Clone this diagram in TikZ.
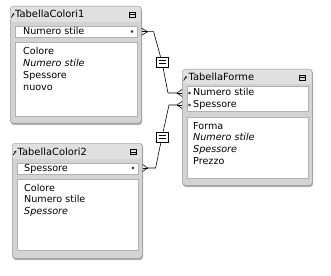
\documentclass[tikz,border=0pt]{standalone}
\usepackage{fontspec}
\setmainfont{DejaVu Sans}
\usetikzlibrary{arrows.meta}
\definecolor{framegray}{HTML}{D3D3D3}
\definecolor{titlegray}{HTML}{E0E0E0}
\definecolor{edgegray}{HTML}{999999}
\definecolor{shadowgray}{HTML}{AEAEAE}
\begin{document}
\begin{tikzpicture}[x=1pt,y=-1pt,
  frame/.style={draw=edgegray, fill=framegray, rounded corners=3pt, anchor=north west, inner sep=0pt, line width=0.6pt},
  shadow/.style={fill=shadowgray, rounded corners=3pt},
  field/.style={draw=black!30, fill=white, anchor=north west, inner sep=0pt, line width=0.5pt},
  txt/.style={anchor=west, inner sep=0pt, text height=7.5pt, text depth=1.5pt, font=\fontsize{9.6}{11}\selectfont},
  ttl/.style={anchor=west, inner sep=0pt, text height=7.5pt, text depth=1.5pt, font=\fontsize{9.9}{11}\selectfont},
  itx/.style={txt, font=\fontsize{9.6}{11}\selectfont\itshape},
  eqbox/.style={draw, fill=white, minimum width=12pt, minimum height=10pt, inner sep=0pt, line width=0.6pt},
  conn/.style={line width=0.6pt},
  keydot/.style={draw=black, fill=white, line width=0.5pt},
  linkarrow/.style={line width=0.7pt, -{Stealth[length=2pt,width=2.4pt]}}]
\useasboundingbox (0,0) rectangle (331,275);

% ---------- TabellaColori1 ----------
\fill[shadow] (11,8) rectangle (142,125);
\node[frame, minimum width=131pt, minimum height=117pt] (t1) at (10,6) {};
\fill[titlegray, rounded corners=2.5pt] (10.6,6.6) rectangle (140.4,22);
\node[field, minimum width=122pt, minimum height=11pt] (t1key) at (15,26) {};
\node[field, minimum width=122pt, minimum height=74pt] (t1body) at (15,42) {};
\draw[linkarrow] (11.3,17.5) -- (14.2,13.2);
\node[ttl] (t1title) at (15,15) {TabellaColori1};
\draw[line width=0.8pt] (129.5,12.5) rectangle (135,17.5);
\draw[line width=1pt] (129.5,15) -- (135,15);
\node[txt] (t1k1) at (23,31.7) {Numero stile};
\draw[keydot] (132,31.5) circle (1.1pt);
\node[txt] (t1b1) at (23,52) {Colore};
\node[itx] (t1b2) at (23,64) {Numero stile};
\node[txt] (t1b3) at (23,76) {Spessore};
\node[txt] (t1b4) at (23,88) {nuovo};

% ---------- TabellaColori2 ----------
\fill[shadow] (13,145) rectangle (143,260);
\node[frame, minimum width=130pt, minimum height=115pt] (t2) at (12,143) {};
\fill[titlegray, rounded corners=2.5pt] (12.6,143.6) rectangle (141.4,159);
\node[field, minimum width=121pt, minimum height=11pt] (t2key) at (17,162.5) {};
\node[field, minimum width=121pt, minimum height=71pt] (t2body) at (17,179) {};
\draw[linkarrow] (13.3,155) -- (16.2,150.7);
\node[ttl] (t2title) at (17.5,152.5) {TabellaColori2};
\draw[line width=0.8pt] (130.5,149.5) rectangle (136,154.5);
\draw[line width=1pt] (130.5,152) -- (136,152);
\node[txt] (t2k1) at (24,168) {Spessore};
\draw[keydot] (133,168) circle (1.1pt);
\node[txt] (t2b1) at (24,188) {Colore};
\node[txt] (t2b2) at (24,199.5) {Numero stile};
\node[itx] (t2b3) at (24,211) {Spessore};

% ---------- TabellaForme ----------
\fill[shadow] (183,71) rectangle (313,187);
\node[frame, minimum width=130pt, minimum height=116pt] (t3) at (182,69) {};
\fill[titlegray, rounded corners=2.5pt] (182.6,69.6) rectangle (311.4,84);
\node[field, minimum width=121pt, minimum height=25pt] (t3key) at (187,86.5) {};
\node[field, minimum width=121pt, minimum height=61pt] (t3body) at (187,117) {};
\draw[linkarrow] (183.6,80.5) -- (186.5,76.2);
\node[ttl] (t3title) at (188.5,78) {TabellaForme};
\draw[line width=0.8pt] (299.5,75.5) rectangle (305,80.5);
\draw[line width=1pt] (299.5,78) -- (305,78);
\draw[keydot] (189.5,93) circle (1.1pt);
\node[txt] (t3k1) at (193,93) {Numero stile};
\draw[keydot] (189.5,105) circle (1.1pt);
\node[txt] (t3k2) at (193,105) {Spessore};
\node[txt] (t3b1) at (193,126) {Forma};
\node[itx] (t3b2) at (193,137.7) {Numero stile};
\node[itx] (t3b3) at (193,149.5) {Spessore};
\node[txt] (t3b4) at (193,161) {Prezzo};

% ---------- relationships ----------
\coordinate (p1) at (t1.east |- t1k1);
\coordinate (p2) at (t3.west |- t3k1);
\coordinate (p3) at (t3.west |- t3k2);
\coordinate (p4) at (t2.east |- t2k1);

\node[eqbox] (eq1) at (162,62) {};
\node[eqbox] (eq2) at (162,137) {};

% connector 1
\draw[conn] ([xshift=6pt]p1) -- ([xshift=12pt]p1) -- (eq1) -- ([xshift=-14pt]p2) -- ([xshift=-5pt]p2);
\draw[conn] ([xshift=6pt]p1) -- ([yshift=-3.5pt]p1);
\draw[conn] ([xshift=6pt]p1) -- (p1);
\draw[conn] ([xshift=6pt]p1) -- ([yshift=3.5pt]p1);
\draw[conn] ([xshift=-5pt]p2) -- ([yshift=-3.5pt]p2);
\draw[conn] ([xshift=-5pt]p2) -- (p2);
\draw[conn] ([xshift=-5pt]p2) -- ([yshift=3.5pt]p2);
\node[eqbox] at (eq1) {};
\draw[line width=0.6pt] ([xshift=-3.5pt,yshift=-1.5pt]eq1.center) -- ([xshift=3.5pt,yshift=-1.5pt]eq1.center);
\draw[line width=0.6pt] ([xshift=-3.5pt,yshift=1.5pt]eq1.center) -- ([xshift=3.5pt,yshift=1.5pt]eq1.center);

% connector 2
\draw[conn] ([xshift=-5pt]p3) -- ([xshift=-13pt]p3) -- (eq2) -- ([xshift=13pt]p4) -- ([xshift=5pt]p4);
\draw[conn] ([xshift=-5pt]p3) -- ([yshift=-3.5pt]p3);
\draw[conn] ([xshift=-5pt]p3) -- (p3);
\draw[conn] ([xshift=-5pt]p3) -- ([yshift=3.5pt]p3);
\draw[conn] ([xshift=5pt]p4) -- ([yshift=-3.5pt]p4);
\draw[conn] ([xshift=5pt]p4) -- (p4);
\draw[conn] ([xshift=5pt]p4) -- ([yshift=3.5pt]p4);
\node[eqbox] at (eq2) {};
\draw[line width=0.6pt] ([xshift=-3.5pt,yshift=-1.5pt]eq2.center) -- ([xshift=3.5pt,yshift=-1.5pt]eq2.center);
\draw[line width=0.6pt] ([xshift=-3.5pt,yshift=1.5pt]eq2.center) -- ([xshift=3.5pt,yshift=1.5pt]eq2.center);
\end{tikzpicture}
\end{document}
